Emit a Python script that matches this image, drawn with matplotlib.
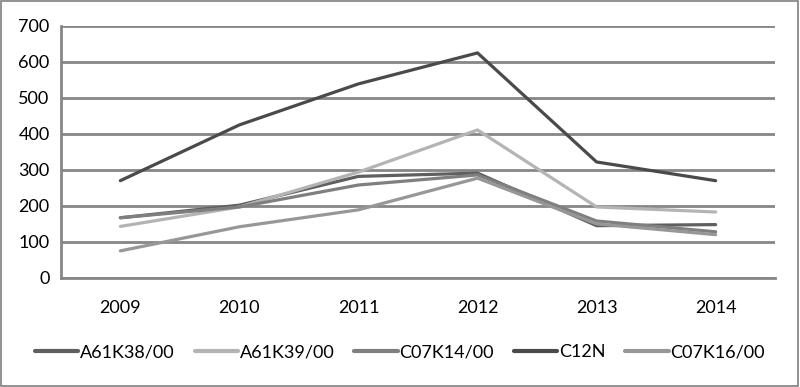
import matplotlib
matplotlib.use("Agg")
import matplotlib.pyplot as plt
from matplotlib.patches import Rectangle

plt.rcParams['font.family'] = ['Lato', 'DejaVu Sans']

years = ["2009", "2010", "2011", "2012", "2013", "2014"]
a61k38 = [167, 202, 282, 291, 145, 148]
a61k39 = [143, 197, 294, 411, 197, 183]
c07k14 = [167, 197, 258, 286, 158, 128]
c12n = [270, 425, 539, 625, 322, 270]
c07k16 = [75, 142, 189, 277, 150, 120]

series = [
    ("A61K38/00", a61k38, "#5f5f5f"),
    ("A61K39/00", a61k39, "#b4b4b4"),
    ("C07K14/00", c07k14, "#7f7f7f"),
    ("C12N", c12n, "#4a4a4a"),
    ("C07K16/00", c07k16, "#979797"),
]

fig = plt.figure(figsize=(8, 3.87), dpi=100)
ax = fig.add_axes([0.076, 0.282, 0.893, 0.651])

x = range(len(years))
for name, vals, col in series:
    ax.plot(x, vals, color=col, lw=2.3, label=name, solid_capstyle='round', zorder=3)

ax.set_xlim(-0.5, 5.5)
ax.set_ylim(0, 700)
ax.set_yticks(range(0, 701, 100))
ax.set_xticks(list(x))
ax.set_xticklabels(years)
ax.grid(axis='y', color='#868686', lw=2)
ax.axhline(0, color='#868686', lw=2, clip_on=False, zorder=1)
ax.set_axisbelow(True)
for s in ['top', 'right', 'bottom']:
    ax.spines[s].set_visible(False)
ax.spines['left'].set_color('#868686')
ax.spines['left'].set_linewidth(2)
ax.tick_params(length=0, labelsize=13, colors='black')
ax.tick_params(axis='x', pad=16)
ax.tick_params(axis='y', pad=8)

leg = fig.legend(loc='center', bbox_to_anchor=(0.5, 0.09), ncol=5, frameon=False,
                 fontsize=13, handlelength=2.4, handletextpad=0.1, columnspacing=1.1)
for line in leg.get_lines():
    line.set_linewidth(3)

fig.patches.append(Rectangle((0.001, 0.002), 0.997, 0.996, transform=fig.transFigure,
                             fill=False, edgecolor='#7f7f7f', lw=1.2))

fig.savefig("out.png", dpi=100)
